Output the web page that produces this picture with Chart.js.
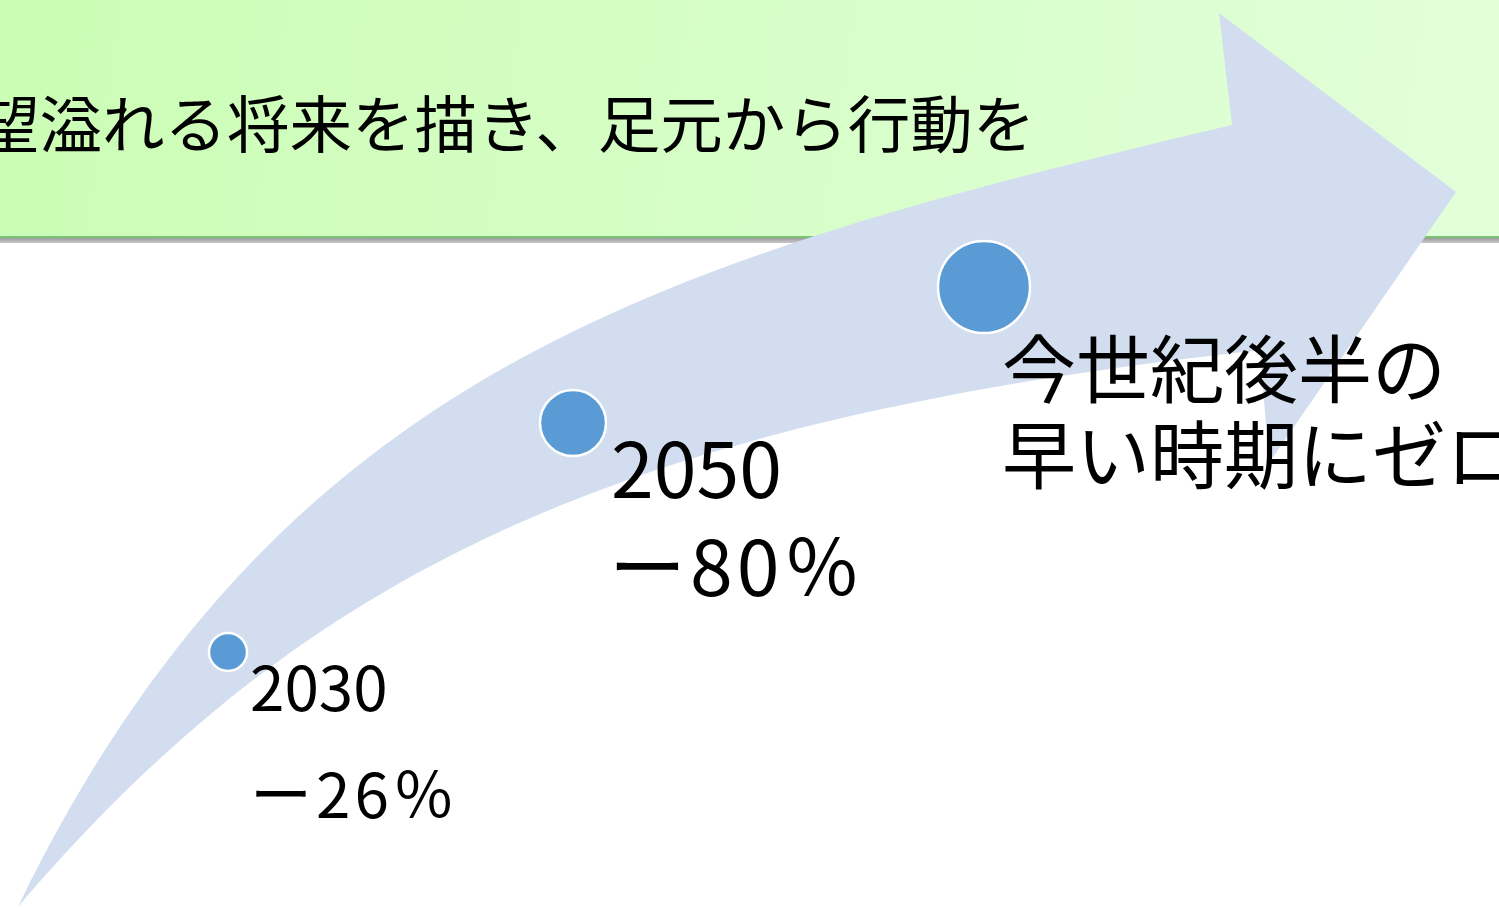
<!DOCTYPE html>
<html lang="ja">

<head>
    <meta charset="UTF-8">
    <title>目標</title>
    <script src="https://cdn.jsdelivr.net/npm/chart.js"></script>
    <style>
        html, body { margin: 0; padding: 0; background: #fff; overflow: hidden; }
        #wrap { width: 1499px; height: 908px; }
    </style>
</head>

<body>
    <div id="wrap">
        <canvas id="mokuhyou" width="1499" height="908"></canvas>
    </div>
</body>

</html>
<script>
    // banner title (starts off the left edge in the original slide)
    var titleText = "望溢れる将来を描き、足元から行動を";

    // milestones
    var years = ["2030", "2050", "今世紀後半の"];
    var targets = ["ー26％", "ー80％", "早い時期にゼロ"];
    var pointX = [228, 573, 984];
    var pointY = [652, 423, 287];
    var pointR = [19, 33, 46];

    // curved arrow outline (same units as the axes): each edge is one cubic curve
    var arrowUpper = [[18, 907], [280, 370], [660, 260], [1232, 125]];
    var arrowHead = [[1219, 13], [1456, 192], [1269, 463], [1260, 350]];
    var arrowLower = [[1260, 350], [614, 421], [304, 573], [18, 907]];

    var fontJP = '"Noto Sans CJK JP", "Noto Sans", sans-serif';

    var background = {
        id: 'background',
        beforeDatasetsDraw: function (chart) {
            var ctx = chart.ctx;
            var sx = chart.scales.x, sy = chart.scales.y;
            var px = function (p) { return [sx.getPixelForValue(p[0]), sy.getPixelForValue(p[1])]; };
            ctx.save();

            // green banner
            var g = ctx.createLinearGradient(0, 0, chart.width, 236);
            g.addColorStop(0, '#CBFDB5');
            g.addColorStop(1, '#E2FFDA');
            ctx.fillStyle = g;
            ctx.fillRect(0, 0, chart.width, 236);
            ctx.fillStyle = '#79C377';
            ctx.fillRect(0, 236, chart.width, 2);
            var sh = ctx.createLinearGradient(0, 238, 0, 243);
            sh.addColorStop(0, '#9C9C9C');
            sh.addColorStop(1, '#C8C8C8');
            ctx.fillStyle = sh;
            ctx.fillRect(0, 238, chart.width, 5);

            ctx.fillStyle = '#000';
            ctx.font = '62.5px ' + fontJP;
            ctx.textBaseline = 'alphabetic';
            ctx.textAlign = 'left';
            ctx.fillText(titleText, -23, 148);

            // arrow
            var u = arrowUpper.map(px), h = arrowHead.map(px), l = arrowLower.map(px);
            ctx.beginPath();
            ctx.moveTo(u[0][0], u[0][1]);
            ctx.bezierCurveTo(u[1][0], u[1][1], u[2][0], u[2][1], u[3][0], u[3][1]);
            h.forEach(function (p) { ctx.lineTo(p[0], p[1]); });
            ctx.lineTo(l[0][0], l[0][1]);
            ctx.bezierCurveTo(l[1][0], l[1][1], l[2][0], l[2][1], l[3][0], l[3][1]);
            ctx.closePath();
            ctx.fillStyle = '#D2DEEF';
            ctx.fill();
            ctx.restore();
        },
        afterDatasetsDraw: function (chart) {
            var ctx = chart.ctx;
            var sx = chart.scales.x, sy = chart.scales.y;
            ctx.save();
            ctx.fillStyle = '#000';
            ctx.textAlign = 'left';
            ctx.textBaseline = 'alphabetic';

            var x0 = sx.getPixelForValue(pointX[0]), y0 = sy.getPixelForValue(pointY[0]);
            ctx.font = '62px ' + fontJP;
            ctx.fillText(years[0], x0 + 22, y0 + 59);
            ctx.letterSpacing = '4px';
            ctx.fillText(targets[0], x0 + 22, y0 + 166);
            ctx.letterSpacing = '0px';

            var x1 = sx.getPixelForValue(pointX[1]), y1 = sy.getPixelForValue(pointY[1]);
            ctx.font = '77px ' + fontJP;
            ctx.fillText(years[1], x1 + 38, y1 + 75);
            ctx.letterSpacing = '4px';
            ctx.fillText(targets[1], x1 + 36, y1 + 173);
            ctx.letterSpacing = '0px';

            var x2 = sx.getPixelForValue(pointX[2]), y2 = sy.getPixelForValue(pointY[2]);
            ctx.font = '74px ' + fontJP;
            ctx.fillText(years[2], x2 + 18, y2 + 110);
            ctx.fillText(targets[2], x2 + 18, y2 + 196);
            ctx.restore();
        }
    };

    var pontos = [];
    for (let i = 0; i < years.length; i++) {
        pontos.push({ x: pointX[i], y: pointY[i], r: pointR[i] });
    }

    var grafico = {
        type: 'bubble',
        data: {
            datasets: [
                {
                    label: "目標",
                    data: pontos,
                    backgroundColor: '#5B9BD5',
                    borderColor: '#FFFFFF',
                    borderWidth: 2.5,
                    clip: false
                }
            ]
        },
        options: {
            responsive: false,
            animation: false,
            layout: { padding: 0, autoPadding: false },
            plugins: { legend: { display: false }, tooltip: { enabled: false } },
            scales: {
                x: { type: 'linear', min: 0, max: 1499, display: false },
                y: { type: 'linear', min: 0, max: 908, reverse: true, display: false }
            }
        },
        plugins: [background]
    };
    var meuGrafico = new Chart(document.getElementById("mokuhyou"), grafico);
</script>
